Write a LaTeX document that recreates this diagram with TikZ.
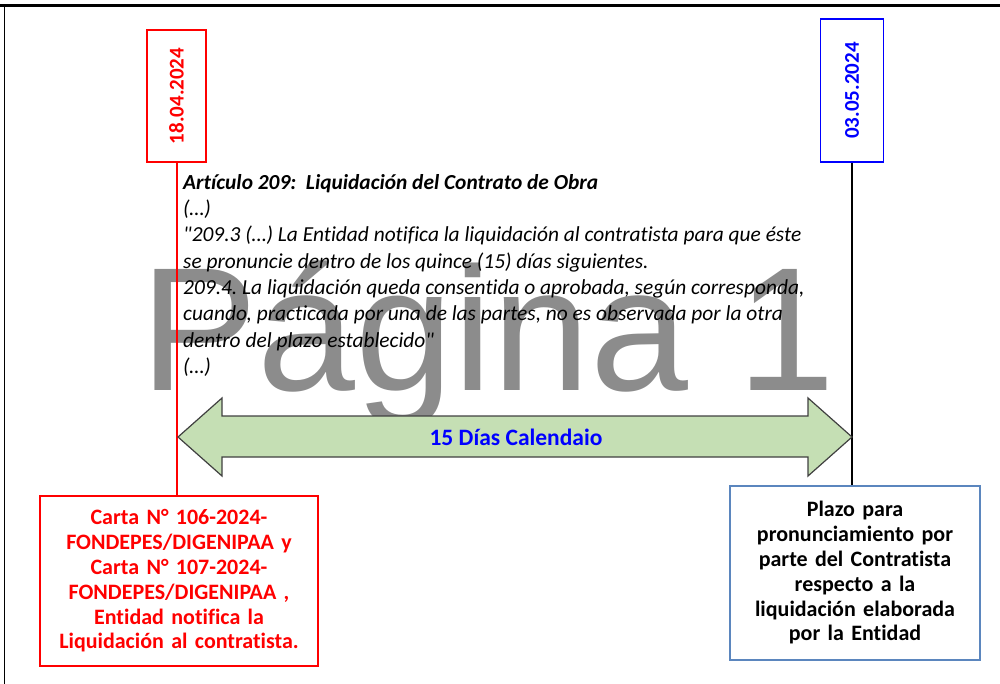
\documentclass[tikz,border=0pt]{standalone}
\usepackage{fontspec}
\setmainfont{Carlito}[Ligatures={TeXOff,NoCommon}]
\newfontfamily\markfont{Liberation Sans}
\frenchspacing

\definecolor{plazogreen}{HTML}{C5DFB4}
\definecolor{plazoblue}{HTML}{5B86BE}
\definecolor{markgray}{HTML}{8C8C8C}

\begin{document}
\begin{tikzpicture}[x=1pt,y=-1pt,
  datebox/.style={draw,line width=1.6pt,rotate=90,inner sep=0pt,
    font=\fontsize{21}{24}\selectfont\bfseries},
  notebox/.style={draw,line width=1.5pt,align=center,inner sep=0pt,
    font=\fontsize{22}{24.8}\selectfont\bfseries}]

\useasboundingbox (0,0) rectangle (1000,684);

% marca de agua
\node[anchor=base,inner sep=0pt,text=markgray,font=\fontsize{176}{176}\markfont] (pagina) at (488,390) {Página 1};

% marco
\draw[line width=3pt] (0,5.5)--(1000,5.5);
\draw[line width=1.5pt] (4.5,5)--(4.5,684);

% fechas
\node[datebox,red,minimum width=132,minimum height=59] (fecha1) at (176.5,96) {18.04.2024};
\node[datebox,blue,minimum width=143,minimum height=63] (fecha2) at (852,90.5) {03.05.2024};

% cuadros inferiores
\node[notebox,red,text width=270,minimum width=278,minimum height=170] (carta) at (179,581)
  {Carta N° 106-2024-\\FONDEPES/DIGENIPAA y\\Carta N° 107-2024-\\FONDEPES/DIGENIPAA ,\\Entidad notifica la\\Liquidación al contratista.};
\node[notebox,draw=plazoblue,text width=240,minimum width=250,minimum height=174] (plazo) at (855,573)
  {Plazo para\\pronunciamiento por\\parte del Contratista\\respecto a la\\liquidación elaborada\\por la Entidad};

\draw[red,line width=2pt] (fecha1)--(fecha1 |- carta.north);
\draw[line width=2pt] (fecha2)--(fecha2 |- plazo.north);

% flecha de plazo
\draw[fill=plazogreen,draw=black!75,line width=1.2pt,line join=miter]
  (178,437)--(222,398)--(222,416)--(808,416)--(808,398)--(852,437)
  --(808,476)--(808,457)--(222,457)--(222,476)--cycle;
\node[text=blue,font=\fontsize{23.5}{26}\selectfont\bfseries] (dias) at (516,437) {15 Días Calendaio};

% articulo
\node[anchor=north west,inner sep=0pt,align=left,font=\fontsize{21.4}{26.3}\selectfont\itshape] (articulo) at (183,174)
  {\textbf{Artículo 209:\ \ Liquidación del Contrato de Obra}\\
   (…)\\
   "209.3 (…) La Entidad notifica la liquidación al contratista para que éste\\
   se pronuncie dentro de los quince (15) días siguientes.\\
   209.4. La liquidación queda consentida o aprobada, según corresponda,\\
   cuando, practicada por una de las partes, no es observada por la otra\\
   dentro del plazo establecido"\\
   (…)};

\end{tikzpicture}
\end{document}
